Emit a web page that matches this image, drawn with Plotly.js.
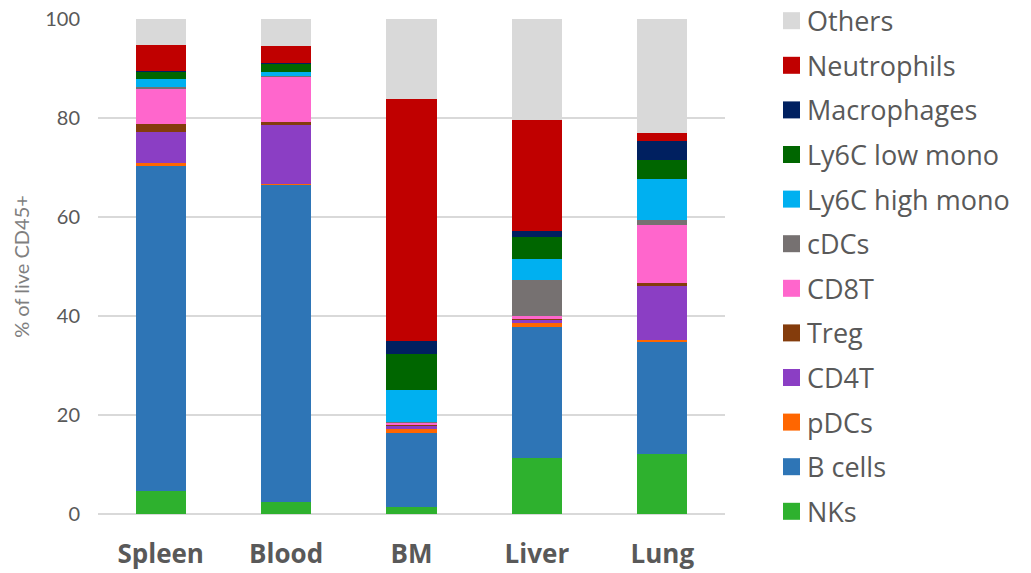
<!DOCTYPE html>
<html>
<head>
<meta charset="utf-8">
<script src="https://cdn.plot.ly/plotly-3.0.1.min.js"></script>
<style>html,body{margin:0;padding:0;background:#fff;}#chart{width:1031px;height:573px;}</style>
</head>
<body>
<div id="chart"></div>
<script>
const categories = ['Spleen', 'Blood', 'BM', 'Liver', 'Lung'];

const NKs         = [4.6, 2.4, 1.5, 11.4, 12.2];
const Bcells      = [65.9, 64.1, 14.9, 26.3, 22.6];
const pDCs        = [0.4, 0.1, 0.7, 0.8, 0.3];
const CD4T        = [6.3, 12.0, 0.7, 0.8, 11.0];
const Treg        = [1.6, 0.5, 0.1, 0.1, 0.5];
const CD8T        = [7.2, 9.3, 0.5, 0.7, 11.8];
const cDCs        = [0.2, 0.1, 0.1, 7.1, 1.0];
const Ly6CHigh    = [1.7, 0.8, 6.6, 4.3, 8.3];
const Ly6CLow     = [1.5, 1.8, 7.3, 4.4, 3.8];
const Macrophages = [0.1, 0.1, 2.5, 1.3, 3.9];
const Neutrophils = [5.3, 3.3, 48.9, 22.3, 1.6];
const Others      = [5.2, 5.5, 16.2, 20.5, 23.0];

const seriesNames = ['NKs', 'B cells', 'pDCs', 'CD4T', 'Treg', 'CD8T', 'cDCs',
  'Ly6C high mono', 'Ly6C low mono', 'Macrophages', 'Neutrophils', 'Others'];
const seriesValues = [NKs, Bcells, pDCs, CD4T, Treg, CD8T, cDCs,
  Ly6CHigh, Ly6CLow, Macrophages, Neutrophils, Others];
const seriesColors = ['#2EB12E', '#2E75B6', '#FF6600', '#8B3EC4', '#843C0C', '#FF66CC',
  '#767171', '#00B0F0', '#006600', '#002060', '#C00000', '#D9D9D9'];

const traces = seriesNames.map((n, i) => ({
  type: 'bar',
  name: n,
  x: categories,
  y: seriesValues[i],
  marker: {color: seriesColors[i], line: {width: 0}},
  hoverinfo: 'name+y'
}));

// Page geometry (pixels) used for the hand-made legend
const W = 1031, H = 573;
const M = {l: 98, r: 306, t: 19, b: 59};
const plotW = W - M.l - M.r, plotH = H - M.t - M.b;
const px2x = p => (p - M.l) / plotW;
const py2y = p => (H - M.b - p) / plotH;

const legendTop = 20.7, legendStep = 44.6, sq = 17, sqLeft = 783, textLeft = 805;
const shapes = [], annotations = [];
for (let k = 0; k < seriesNames.length; k++) {
  const i = seriesNames.length - 1 - k;   // Others at top, NKs at bottom
  const cy = legendTop + k * legendStep;
  shapes.push({
    type: 'rect', xref: 'paper', yref: 'paper',
    x0: px2x(sqLeft), x1: px2x(sqLeft + sq),
    y0: py2y(cy + sq / 2), y1: py2y(cy - sq / 2),
    fillcolor: seriesColors[i], line: {width: 0}
  });
  annotations.push({
    xref: 'paper', yref: 'paper',
    x: px2x(textLeft), y: py2y(cy),
    xanchor: 'left', yanchor: 'middle',
    text: seriesNames[i], showarrow: false,
    font: {family: '"Open Sans", sans-serif', size: 27, color: '#595959'}
  });
}

const layout = {
  width: W,
  height: H,
  barmode: 'stack',
  bargap: 0.6,
  paper_bgcolor: '#ffffff',
  plot_bgcolor: '#ffffff',
  margin: M,
  showlegend: false,
  font: {family: 'Lato, "Open Sans", sans-serif', color: '#595959'},
  xaxis: {
    tickfont: {family: '"Open Sans", sans-serif', size: 26, color: '#595959', weight: 'bold'},
    showgrid: false,
    showline: false,
    zeroline: false,
    ticks: '',
    ticklabelstandoff: 22
  },
  yaxis: {
    range: [0, 100],
    dtick: 20,
    showgrid: true,
    gridcolor: '#D9D9D9',
    gridwidth: 1.5,
    zeroline: true,
    zerolinecolor: '#D9D9D9',
    zerolinewidth: 1.5,
    showline: false,
    ticks: '',
    tickfont: {size: 20, color: '#595959'},
    ticklabelstandoff: 17,
    title: {text: '% of live CD45+', font: {size: 20, color: '#7F7F7F'}, standoff: 10}
  },
  shapes: shapes,
  annotations: annotations
};

Plotly.newPlot('chart', traces, layout, {displayModeBar: false, responsive: false});
</script>
</body>
</html>
